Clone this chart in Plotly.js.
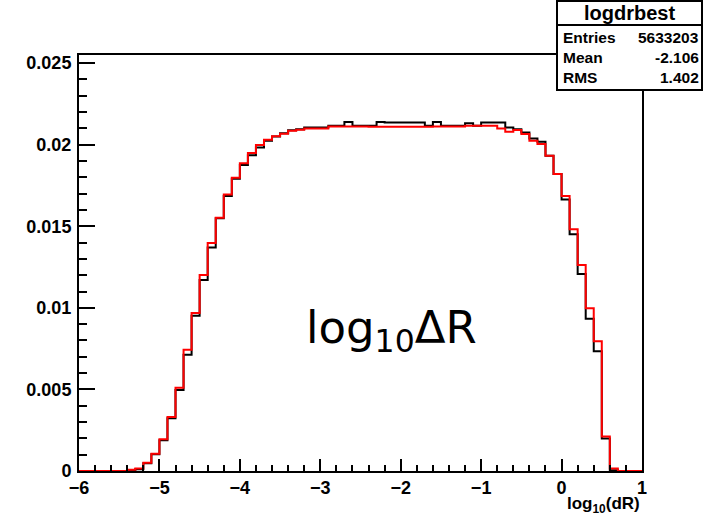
<!DOCTYPE html>
<html>
<head>
<meta charset="utf-8">
<script src="https://cdn.plot.ly/plotly-3.0.1.min.js"></script>
<style>html,body{margin:0;padding:0;background:#fff;}#chart{width:706px;height:516px;}</style>
</head>
<body>
<div id="chart"></div>
<script>
// Histogram binning: 70 bins of width 0.1 from -6 to 1
const binLow = -6.0;
const binWidth = 0.1;
const nBins = 70;

// Black histogram (logdrbest) bin contents, bins starting at -6.0
const blackValues = [
  0, 0, 0, 0, 0, 0,
  0.00004, 0.0001, 0.00048, 0.00102, 0.00188, 0.00323, 0.00496, 0.00712, 0.00951, 0.01171,
  0.0137, 0.0155, 0.01685, 0.01791, 0.01876, 0.01935, 0.01983, 0.02024, 0.0205, 0.0207,
  0.02088, 0.02095, 0.02105, 0.02105, 0.02105, 0.02116, 0.02116, 0.0214, 0.02116, 0.02116,
  0.02116, 0.0214, 0.02136, 0.02136, 0.02136, 0.02136, 0.02136, 0.02116, 0.0214, 0.02116,
  0.02116, 0.02116, 0.02132, 0.02116, 0.02136, 0.02136, 0.02136, 0.02105, 0.02095, 0.02075,
  0.02038, 0.02018, 0.01933, 0.01821, 0.01665, 0.01451, 0.01207, 0.00933, 0.00734, 0.00199,
  0.00005, 0, 0, 0
];

// Red histogram bin contents, bins starting at -6.0
const redValues = [
  0, 0, 0, 0, 0, 0,
  0.00008, 0.00016, 0.0005, 0.00106, 0.00194, 0.00331, 0.0051, 0.00744, 0.00968, 0.01201,
  0.01398, 0.01553, 0.01695, 0.01797, 0.01886, 0.01949, 0.01998, 0.0203, 0.02052, 0.02068,
  0.02085, 0.02092, 0.021, 0.021, 0.021, 0.02112, 0.02112, 0.02112, 0.02112, 0.02112,
  0.0211, 0.0211, 0.0211, 0.0211, 0.0211, 0.0211, 0.0211, 0.0211, 0.02112, 0.02112,
  0.02112, 0.02112, 0.02116, 0.02116, 0.02116, 0.02116, 0.021, 0.0208, 0.0209, 0.02065,
  0.02024, 0.02004, 0.01933, 0.01821, 0.01685, 0.01482, 0.01262, 0.00998, 0.00795, 0.00212,
  0.00015, 0, 0, 0
];

const statsTitle = "logdrbest";
const statsLabels = ["Entries", "Mean", "RMS"];
const statsValues = ["5633203", "-2.106", "1.402"];

// step outline: left edges plus the final right edge
function edges() {
  const e = [];
  for (let i = 0; i <= nBins; i++) e.push(+(binLow + i * binWidth).toFixed(4));
  return e;
}
function stepY(vals) { return vals.concat([vals[vals.length - 1]]); }

const xe = edges();
const traces = [
  {x: xe, y: stepY(blackValues), type: 'scatter', mode: 'lines',
   line: {shape: 'hv', color: '#000000', width: 2}, hoverinfo: 'skip'},
  {x: xe, y: stepY(redValues), type: 'scatter', mode: 'lines',
   line: {shape: 'hv', color: '#ff0000', width: 2}, hoverinfo: 'skip'}
];

const L = 79, R = 642, T = 55, B = 471.5, W = 706, H = 516;
const px = v => (v - L) / (R - L);
const py = v => (B - v) / (B - T);
const tickFont = {family: 'Liberation Sans, Arial, sans-serif', size: 18, color: '#000', weight: 'bold'};
const titleFont = {family: 'Liberation Sans, Arial, sans-serif', size: 17, color: '#000', weight: 'bold'};
const boxFont = {family: 'Liberation Sans, Arial, sans-serif', size: 15.5, color: '#000', weight: 'bold'};

const annotations = [
  {xref: 'paper', yref: 'paper', x: 1, y: py(492.5), xanchor: 'right', yanchor: 'top',
   text: 'log<sub>10</sub>(dR)', showarrow: false, font: titleFont},
  {xref: 'paper', yref: 'paper', x: px(391), y: py(330), xanchor: 'center', yanchor: 'middle',
   text: 'log<sub>10</sub>ΔR', showarrow: false,
   font: {family: 'DejaVu Sans, sans-serif', size: 45, color: '#000'}},
  {xref: 'paper', yref: 'paper', x: px(629.5), y: py(13), xanchor: 'center', yanchor: 'middle',
   text: statsTitle, showarrow: false, font: {family: 'Liberation Sans, Arial, sans-serif', size: 20, color: '#000', weight: 'bold'}}
];
const rowY = [37, 58, 78];
statsLabels.forEach((lab, i) => {
  annotations.push({xref: 'paper', yref: 'paper', x: px(561), y: py(rowY[i]), xanchor: 'left', yanchor: 'middle',
    text: lab, showarrow: false, font: boxFont});
  annotations.push({xref: 'paper', yref: 'paper', x: px(701), y: py(rowY[i]), xanchor: 'right', yanchor: 'middle',
    text: statsValues[i], showarrow: false, font: boxFont});
});

const layout = {
  width: W, height: H,
  margin: {l: L, r: W - R, t: T, b: H - B},
  paper_bgcolor: '#fff', plot_bgcolor: '#fff',
  showlegend: false,
  xaxis: {
    range: [-6, 1], tick0: -6, dtick: 1, ticks: 'inside', ticklen: 12, tickwidth: 2, tickcolor: '#000',
    showgrid: false, zeroline: false, showline: true, linecolor: '#000', linewidth: 2, mirror: true,
    tickfont: tickFont, ticklabelstandoff: -1,
    minor: {dtick: 0.2, ticks: 'inside', ticklen: 6, tickwidth: 2, tickcolor: '#000', showgrid: false}
  },
  yaxis: {
    range: [0, 0.0255], tick0: 0, dtick: 0.005, ticks: 'inside', ticklen: 16, tickwidth: 2, tickcolor: '#000',
    showgrid: false, zeroline: false, showline: true, linecolor: '#000', linewidth: 2, mirror: true,
    tickfont: tickFont, ticklabelstandoff: 2,
    minor: {dtick: 0.001, ticks: 'inside', ticklen: 8, tickwidth: 2, tickcolor: '#000', showgrid: false}
  },
  shapes: [
    {type: 'rect', xref: 'paper', yref: 'paper', x0: px(557), x1: px(702), y0: py(90), y1: py(1),
     fillcolor: '#fff', line: {color: '#000', width: 2}, layer: 'above'},
    {type: 'line', xref: 'paper', yref: 'paper', x0: px(557), x1: px(702), y0: py(25), y1: py(25),
     line: {color: '#000', width: 2}, layer: 'above'}
  ],
  annotations: annotations
};

Plotly.newPlot('chart', traces, layout, {staticPlot: true, displayModeBar: false});
</script>
</body>
</html>
